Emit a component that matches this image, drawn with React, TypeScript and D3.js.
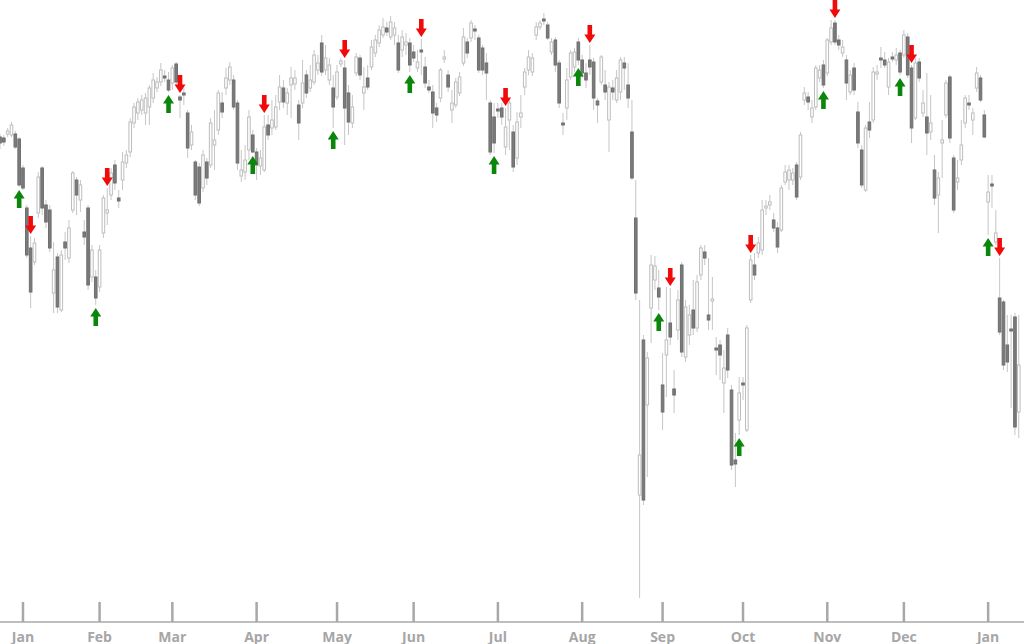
import React from "react";
import * as d3 from "d3";

const opens = [
  863,862,866,865,866,861,832,792,752,738,
  787,832,795,790,707,743,690,758,742,790,
  820,800,768,792,723,723,713,767,787,805,
  835,802,820,837,848,877,887,890,887,893,
  902,912,918,924,920,917,936,903,907,887,
  855,838,833,812,838,835,855,870,897,912,
  920,920,897,824,828,850,865,848,834,830,
  875,872,873,898,912,897,915,916,895,897,
  925,912,918,930,957,930,920,912,903,936,
  932,907,877,927,942,907,922,933,947,957,
  965,972,963,965,957,950,955,957,948,932,
  950,933,913,908,892,902,941,925,890,895,
  907,937,958,962,971,962,952,937,897,883,
  891,892,853,880,868,842,883,913,930,928,
  965,973,981,975,948,960,937,877,892,923,
  933,958,940,927,940,938,899,918,915,880,
  912,900,908,937,915,868,782,505,660,595,
  692,720,712,615,645,677,611,670,735,643,
  665,690,672,725,748,685,699,652,655,617,
  665,610,540,580,617,570,700,735,747,750,
  792,795,780,772,770,818,820,820,835,823,
  900,903,883,893,922,935,927,958,977,960,
  947,940,908,932,888,850,810,878,880,926,
  942,940,913,943,940,947,945,963,932,882,
  938,887,883,868,830,805,857,885,923,842,
  818,840,877,897,880,912,922,885,798,816,
  758,702,698,655,671,683,588,
];

const highs = [
  866,865,872,878,869,863,835,795,764,762,
  828,834,800,795,758,747,750,768,780,829,
  823,820,780,795,755,730,755,805,812,832,
  840,810,848,850,882,897,902,905,907,915,
  927,923,937,930,928,935,938,905,912,890,
  875,840,837,850,842,882,890,910,908,932,
  938,925,900,850,855,890,870,852,850,885,
  885,900,905,925,920,912,933,930,900,940,
  930,935,950,945,965,955,942,925,935,942,
  940,915,905,947,945,933,935,960,965,975,
  982,978,984,978,965,970,967,962,955,950,
  961,943,920,915,897,932,950,930,910,922,
  928,972,962,980,975,965,955,947,900,897,
  897,897,892,900,875,888,905,932,950,947,
  978,980,987,978,962,963,940,887,932,950,
  952,962,945,937,955,942,902,945,930,918,
  920,930,943,943,937,900,820,700,665,648,
  745,744,730,647,713,712,630,710,738,700,
  695,720,725,755,755,742,723,663,660,650,
  672,615,567,623,623,675,745,747,763,800,
  800,805,787,778,815,835,835,832,838,868,
  913,908,900,935,935,940,962,980,980,965,
  960,945,930,937,898,855,875,898,933,935,
  953,948,942,948,952,950,970,967,935,942,
  942,910,927,905,845,828,880,920,925,845,
  840,880,905,905,892,933,925,890,825,825,
  790,742,700,685,685,687,685,
];

const lows = [
  851,854,863,863,851,813,810,742,692,735,
  782,785,772,748,687,687,688,740,737,787,
  785,788,755,710,718,695,708,762,775,800,
  810,792,810,832,843,872,880,885,875,875,
  897,908,914,918,908,910,915,882,895,842,
  850,800,794,808,815,832,830,865,882,905,
  915,890,830,818,820,840,847,820,825,828,
  860,865,870,890,892,885,882,910,860,892,
  902,908,915,925,924,925,915,872,900,933,
  855,865,872,924,920,890,910,930,943,953,
  962,964,960,955,927,943,945,928,938,928,
  925,912,907,872,878,898,937,908,877,892,
  904,934,942,958,960,927,925,900,845,847,
  882,875,845,850,828,835,872,905,925,924,
  960,970,975,960,945,928,892,865,880,920,
  928,935,922,912,925,890,877,915,900,848,
  900,897,900,910,892,820,700,402,495,523,
  657,710,690,570,603,655,587,660,643,638,
  655,665,668,720,735,670,670,625,620,587,
  622,530,513,565,600,568,697,720,742,745,
  785,790,768,747,768,815,810,815,800,820,
  895,890,877,890,918,912,924,955,955,950,
  943,900,905,905,852,812,808,862,877,920,
  932,932,905,938,935,925,942,922,857,880,
  918,883,845,860,795,767,822,882,857,787,
  810,835,872,890,865,908,898,862,765,792,
  755,665,630,628,592,565,562,
];

const closes = [
  857,858,869,875,853,815,812,745,708,757,
  823,792,778,752,730,693,745,752,772,827,
  805,815,763,715,750,702,750,802,790,827,
  817,799,838,845,878,893,898,900,902,912,
  920,918,930,922,910,932,918,900,905,852,
  868,805,797,845,822,877,860,907,888,922,
  933,893,837,830,840,883,848,835,842,873,
  865,880,893,913,898,907,922,922,877,917,
  907,920,945,937,928,942,935,893,928,939,
  892,878,893,943,925,913,913,953,960,970,
  973,968,978,972,930,963,958,935,942,938,
  948,917,910,887,885,930,943,913,897,918,
  923,963,947,977,969,930,930,927,848,857,
  889,883,873,897,833,878,887,928,943,942,
  973,977,979,962,958,935,897,875,920,947,
  948,940,927,920,933,902,895,943,908,913,
  908,922,940,932,902,822,707,545,500,642,
  735,734,703,588,660,663,605,700,648,693,
  685,672,718,752,742,680,701,650,645,632,
  630,535,536,607,615,672,740,725,757,790,
  794,798,772,753,812,828,830,827,803,865,
  907,898,892,932,930,915,960,972,958,955,
  953,917,925,910,857,815,872,870,928,928,
  940,935,938,941,945,928,965,925,872,937,
  922,897,867,877,802,822,860,917,862,790,
  822,855,902,895,887,927,900,863,808,814,
  767,668,635,638,669,573,635,
];

const buySignals = [5, 25, 44, 66, 87, 107, 129, 151, 172, 193, 215, 235, 258];
const sellSignals = [8, 28, 47, 69, 90, 110, 132, 154, 175, 196, 218, 238, 261];

const tickIndex = [6, 26, 45, 67, 88, 108, 130, 152, 173, 194, 216, 236, 258];
const tickLabels = ["Jan", "Feb", "Mar", "Apr", "May", "Jun", "Jul", "Aug", "Sep", "Oct", "Nov", "Dec", "Jan"];

const W = 1024;
const H = 644;

export default function App() {
  const n = opens.length;
  const step = 3.83;
  const x = d3.scaleLinear().domain([0, n - 1]).range([0, (n - 1) * step]);
  const y = d3.scaleLinear().domain([400, 1000]).range([600, 0]);
  const axisY = 622;
  const bodyW = 2.6;

  const upArrow = (cx: number, top: number) =>
    `M${cx},${top} L${cx + 5.5},${top + 8.5} L${cx + 2.3},${top + 8.5} L${cx + 2.3},${top + 18} L${cx - 2.3},${top + 18} L${cx - 2.3},${top + 8.5} L${cx - 5.5},${top + 8.5} Z`;
  const downArrow = (cx: number, bottom: number) =>
    `M${cx},${bottom} L${cx + 5.5},${bottom - 8.5} L${cx + 2.3},${bottom - 8.5} L${cx + 2.3},${bottom - 18} L${cx - 2.3},${bottom - 18} L${cx - 2.3},${bottom - 8.5} L${cx - 5.5},${bottom - 8.5} Z`;

  const idx = d3.range(n);

  return (
    <svg
      width={W}
      height={H}
      style={{ position: "absolute", left: 0, top: 0, background: "#fff" }}
    >
      <g>
        {idx.map((i) => (
          <line
            key={"w" + i}
            x1={x(i)}
            x2={x(i)}
            y1={y(highs[i])}
            y2={y(lows[i])}
            stroke="#c6c6c6"
            strokeWidth={1}
          />
        ))}
      </g>
      <g>
        {idx.map((i) => {
          const up = closes[i] >= opens[i];
          const top = y(Math.max(opens[i], closes[i]));
          const bot = y(Math.min(opens[i], closes[i]));
          return (
            <rect
              key={"b" + i}
              x={x(i) - bodyW / 2}
              y={top}
              width={bodyW}
              height={Math.max(1.5, bot - top)}
              fill={up ? "#ffffff" : "#7b7b7b"}
              stroke={up ? "#bdbdbd" : "#6e6e6e"}
              strokeWidth={1}
            />
          );
        })}
      </g>
      <g>
        {buySignals.map((i) => (
          <path key={"g" + i} d={upArrow(x(i), y(lows[i]) + 3)} fill="#0a860a" />
        ))}
        {sellSignals.map((i) => (
          <path key={"r" + i} d={downArrow(x(i), y(highs[i]) - 2)} fill="#f00a0a" />
        ))}
      </g>
      <g>
        <line x1={0} x2={W} y1={axisY} y2={axisY} stroke="#a8a8a8" strokeWidth={1.5} />
        {tickIndex.map((t, k) => (
          <g key={"t" + k}>
            <line
              x1={x(t)}
              x2={x(t)}
              y1={axisY - 20}
              y2={axisY}
              stroke="#a8a8a8"
              strokeWidth={2.5}
            />
            <text
              x={x(t)}
              y={641.5}
              textAnchor="middle"
              fontFamily="'Open Sans', 'Noto Sans', sans-serif"
              fontWeight={700}
              fontSize={14}
              fill="#a6a6a6"
            >
              {tickLabels[k]}
            </text>
          </g>
        ))}
      </g>
    </svg>
  );
}
